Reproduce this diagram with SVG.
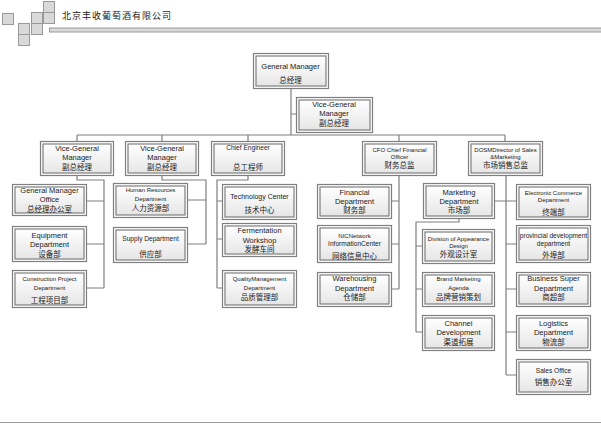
<svg xmlns="http://www.w3.org/2000/svg" width="601" height="425" viewBox="0 0 601 425">
<defs>
<linearGradient id="g" x1="0" y1="0" x2="0" y2="1">
<stop offset="0" stop-color="#ffffff"/>
<stop offset="1" stop-color="#e6e6e6"/>
</linearGradient>
<style>
.o{fill:#ffffff;stroke:#7f7f7f;stroke-width:1.2}
.i{fill:url(#g);stroke:#7f7f7f;stroke-width:1.2}
.sq{fill:#d9d9d9;stroke:#999999;stroke-width:1}
.c{fill:none;stroke:#7f7f7f;stroke-width:1.2}
text{fill:#222222;text-anchor:middle}
.e{font-family:"Liberation Sans",Arial,sans-serif;font-size:7.5px}
.s6{font-size:6px}
.s65{font-size:6.6px}
.s7{font-size:7px}
.z{font-family:"Noto Sans CJK SC","Noto Sans CJK TC",sans-serif;font-size:7.5px}
</style>
</defs>
<g id="header">
<rect class="sq" x="2.5" y="13.5" width="11" height="11"/>
<rect class="sq" x="18.5" y="23.5" width="11" height="11"/>
<rect class="sq" x="18.5" y="34.5" width="11" height="11"/>
<rect class="sq" x="31.5" y="12.5" width="11" height="11"/>
<rect class="sq" x="31.5" y="23.5" width="11" height="11"/>
<rect class="sq" x="43.5" y="1.5" width="11" height="11"/>
<rect class="sq" x="43.5" y="12.5" width="11" height="11"/>
<rect class="sq" x="49.5" y="28" width="552" height="4"/>
<text x="62" y="18.5" class="z" style="font-size:9px;text-anchor:start;letter-spacing:1px">北京丰收葡萄酒有限公司</text>
<line x1="0" y1="422.5" x2="601" y2="422.5" stroke="#999999" stroke-width="1"/>
</g>
<g id="connectors">
<path class="c" d="M291,88V135M291,114H296"/>
<path class="c" d="M77,135H505M77,135V141M162,135V141M248,135V141M399,135V141M505,135V141"/>
<path class="c" d="M77,175V180H104V288M87,201H104M87,244H104M87,288H104"/>
<path class="c" d="M162,175V180H206V244M188,200H206M188,244H206"/>
<path class="c" d="M248,175V180H217V288M217,201H222M217,239H222M217,288H222"/>
<path class="c" d="M399,175V289M392,201H399M392,244H399M392,289H399"/>
<path class="c" d="M506,175V375M495,201H516M506,244H516M506,289H516M506,332H516M506,375H516"/>
<path class="c" d="M459,218V222H416V332M416,246H422M416,289H422M416,332H422"/>
</g>
<g id="gm"><rect class="o" x="253.5" y="53.5" width="75" height="35"/><rect class="i" x="256" y="56" width="70" height="30"/>
<text class="e" x="290.5" y="68.5">General Manager</text><text class="z" x="290.5" y="83">总经理</text></g>
<g id="vgm-top"><rect class="o" x="296.5" y="97.5" width="76" height="35"/><rect class="i" x="299" y="100" width="71" height="30"/>
<text class="e" x="334" y="107">Vice-General</text><text class="e" x="334" y="115.5">Manager</text><text class="z" x="334" y="126">副总经理</text></g>
<g id="vgm1"><rect class="o" x="40.5" y="141.5" width="73" height="34"/><rect class="i" x="43" y="144" width="68" height="29"/>
<text class="e" x="77" y="150.5">Vice-General</text><text class="e" x="77" y="160">Manager</text><text class="z" x="77" y="170">副总经理</text></g>
<g id="vgm2"><rect class="o" x="125.5" y="141.5" width="73" height="34"/><rect class="i" x="128" y="144" width="68" height="29"/>
<text class="e" x="162" y="150.5">Vice-General</text><text class="e" x="162" y="160">Manager</text><text class="z" x="162" y="170">副总经理</text></g>
<g id="ce"><rect class="o" x="211.5" y="141.5" width="73" height="34"/><rect class="i" x="214" y="144" width="68" height="29"/>
<text class="e s65" x="248" y="149.5">Chief Engineer</text><text class="z" x="248" y="170">总工程师</text></g>
<g id="cfo"><rect class="o" x="362.5" y="141.5" width="74" height="34"/><rect class="i" x="365" y="144" width="69" height="29"/>
<text class="e s6" x="399.5" y="152">CFO Chief Financial</text><text class="e s6" x="399.5" y="159">Officer</text><text class="z" x="399.5" y="168">财务总监</text></g>
<g id="dosm"><rect class="o" x="468.5" y="141.5" width="74" height="34"/><rect class="i" x="471" y="144" width="69" height="29"/>
<text class="e s6" x="505.5" y="152">DOSMDirector of Sales</text><text class="e s6" x="505.5" y="159">&amp;Marketing</text><text class="z" x="505.5" y="168">市场销售总监</text></g>
<g id="gmo"><rect class="o" x="12.5" y="184.5" width="74" height="31"/><rect class="i" x="15" y="187" width="69" height="26"/>
<text class="e" x="49.5" y="193">General Manager</text><text class="e" x="49.5" y="202">Office</text><text class="z" x="49.5" y="211.5">总经理办公室</text></g>
<g id="equip"><rect class="o" x="12.5" y="226.5" width="74" height="35"/><rect class="i" x="15" y="229" width="69" height="30"/>
<text class="e" x="49.5" y="237.5">Equipment</text><text class="e" x="49.5" y="246.5">Department</text><text class="z" x="49.5" y="257">设备部</text></g>
<g id="constr"><rect class="o" x="12.5" y="270.5" width="74" height="37"/><rect class="i" x="15" y="273" width="69" height="32"/>
<text class="e s6" x="49.5" y="281">Construction Project</text><text class="e s6" x="49.5" y="290">Department</text><text class="z" x="49.5" y="303">工程项目部</text></g>
<g id="hr"><rect class="o" x="113.5" y="183.5" width="74" height="34"/><rect class="i" x="116" y="186" width="69" height="29"/>
<text class="e s6" x="150.5" y="191.5">Human Resources</text><text class="e s6" x="150.5" y="201">Department</text><text class="z" x="150.5" y="210.5">人力资源部</text></g>
<g id="supply"><rect class="o" x="113.5" y="227.5" width="74" height="35"/><rect class="i" x="116" y="230" width="69" height="30"/>
<text class="e s65" x="150.5" y="241">Supply Department</text><text class="z" x="150.5" y="257">供应部</text></g>
<g id="tech"><rect class="o" x="222.5" y="184.5" width="74" height="35"/><rect class="i" x="225" y="187" width="69" height="30"/>
<text class="e s7" x="259.5" y="198.5">Technology Center</text><text class="z" x="259.5" y="213">技术中心</text></g>
<g id="ferm"><rect class="o" x="222.5" y="223.5" width="74" height="33"/><rect class="i" x="225" y="226" width="69" height="28"/>
<text class="e" x="259.5" y="233">Fermentation</text><text class="e" x="259.5" y="242.5">Workshop</text><text class="z" x="259.5" y="252">发酵车间</text></g>
<g id="qm"><rect class="o" x="222.5" y="270.5" width="74" height="37"/><rect class="i" x="225" y="273" width="69" height="32"/>
<text class="e s6" x="259.5" y="281">QualityManagement</text><text class="e s6" x="259.5" y="290">Department</text><text class="z" x="259.5" y="299.5">品质管理部</text></g>
<g id="fin"><rect class="o" x="317.5" y="184.5" width="74" height="34"/><rect class="i" x="320" y="187" width="69" height="29"/>
<text class="e" x="354.5" y="194.5">Financial</text><text class="e" x="354.5" y="203.5">Department</text><text class="z" x="354.5" y="213">财务部</text></g>
<g id="nic"><rect class="o" x="317.5" y="225.5" width="74" height="37"/><rect class="i" x="320" y="228" width="69" height="32"/>
<text class="e s6" x="354.5" y="238">NICNetwork</text><text class="e s65" x="354.5" y="246">InformationCenter</text><text class="z" x="354.5" y="259">网络信息中心</text></g>
<g id="ware"><rect class="o" x="317.5" y="272.5" width="74" height="34"/><rect class="i" x="320" y="275" width="69" height="29"/>
<text class="e" x="354.5" y="281">Warehousing</text><text class="e" x="354.5" y="290.5">Department</text><text class="z" x="354.5" y="300">仓储部</text></g>
<g id="mkt"><rect class="o" x="423.5" y="183.5" width="71" height="35"/><rect class="i" x="426" y="186" width="66" height="30"/>
<text class="e" x="459" y="194.5">Marketing</text><text class="e" x="459" y="203.5">Department</text><text class="z" x="459" y="213">市场部</text></g>
<g id="div"><rect class="o" x="422.5" y="229.5" width="72" height="34"/><rect class="i" x="425" y="232" width="67" height="29"/>
<text class="e s6" x="458.5" y="240.5">Division of Appearance</text><text class="e s6" x="458.5" y="247.5">Design</text><text class="z" x="458.5" y="257">外观设计室</text></g>
<g id="brand"><rect class="o" x="422.5" y="272.5" width="72" height="34"/><rect class="i" x="425" y="275" width="67" height="29"/>
<text class="e s6" x="458.5" y="281">Brand Marketing</text><text class="e s6" x="458.5" y="290">Agenda</text><text class="z" x="458.5" y="299.5">品牌营销策划</text></g>
<g id="channel"><rect class="o" x="422.5" y="315.5" width="72" height="35"/><rect class="i" x="425" y="318" width="67" height="30"/>
<text class="e" x="458.5" y="325.5">Channel</text><text class="e" x="458.5" y="334.5">Development</text><text class="z" x="458.5" y="345">渠道拓展</text></g>
<g id="ec"><rect class="o" x="516.5" y="184.5" width="74" height="35"/><rect class="i" x="519" y="187" width="69" height="30"/>
<text class="e s6" x="553.5" y="195">Electronic Commerce</text><text class="e s6" x="553.5" y="202">Department</text><text class="z" x="553.5" y="214.5">终端部</text></g>
<g id="prov"><rect class="o" x="516.5" y="225.5" width="74" height="37"/><rect class="i" x="519" y="228" width="69" height="32"/>
<text class="e s65" x="553.5" y="237.5">provincial development</text><text class="e s65" x="553.5" y="245.5">department</text><text class="z" x="553.5" y="258">外埠部</text></g>
<g id="bizsup"><rect class="o" x="516.5" y="272.5" width="74" height="34"/><rect class="i" x="519" y="275" width="69" height="29"/>
<text class="e" x="553.5" y="281">Business Super</text><text class="e" x="553.5" y="290.5">Department</text><text class="z" x="553.5" y="300">商超部</text></g>
<g id="logistics"><rect class="o" x="516.5" y="315.5" width="74" height="35"/><rect class="i" x="519" y="318" width="69" height="30"/>
<text class="e" x="553.5" y="325.5">Logistics</text><text class="e" x="553.5" y="334.5">Department</text><text class="z" x="553.5" y="345">物流部</text></g>
<g id="sales"><rect class="o" x="516.5" y="359.5" width="74" height="35"/><rect class="i" x="519" y="362" width="69" height="30"/>
<text class="e s65" x="553.5" y="373">Sales Office</text><text class="z" x="553.5" y="384.5">销售办公室</text></g>
</svg>
